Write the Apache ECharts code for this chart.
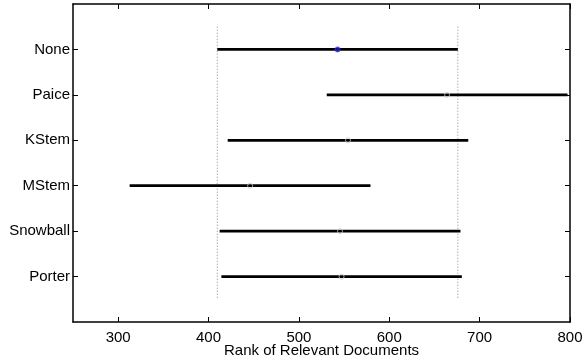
<!DOCTYPE html>
<html>
<head>
<meta charset="utf-8">
<script src="https://cdn.jsdelivr.net/npm/echarts@6/dist/echarts.min.js"></script>
<style>
  html, body { margin: 0; padding: 0; background: #fff; }
  #chart { width: 588px; height: 364px; }
</style>
</head>
<body>
<div id="chart"></div>
<script>
// groups top to bottom, with estimated mean rank and comparison interval
const groups = ["None", "Paice", "KStem", "MStem", "Snowball", "Porter"];
const means = [542.8, 664.0, 554.3, 446.0, 545.5, 547.2];
const lower = [409.7, 530.8, 421.2, 312.7, 412.3, 414.2];
const upper = [675.9, 797.3, 687.4, 579.2, 678.8, 680.3];
const xTicks = [300, 400, 500, 600, 700, 800];

const font = "Liberation Sans, Arial, Helvetica, sans-serif";
const rowPos = groups.map((g, i) => i + 1);

const chart = echarts.init(document.getElementById("chart"), null, { renderer: "canvas" });

const intervalSeries = groups.map((g, i) => ({
  name: g,
  type: "line",
  data: [[lower[i], i + 1], [upper[i], i + 1]],
  symbol: "none",
  silent: true,
  lineStyle: { color: "#000", width: 2.8 },
  z: 3,
}));

// dotted reference lines at the bounds of the first group
const refSeries = [lower[0], upper[0]].map((v) => ({
  type: "line",
  data: [[v, 0.5], [v, groups.length + 0.5]],
  symbol: "none",
  silent: true,
  lineStyle: { color: "#888", width: 1, type: [1, 2] },
  z: 2,
}));

const axisLine = { show: true, onZero: false, lineStyle: { color: "#000", width: 1.5 } };

const option = {
  animation: false,
  grid: { left: 73, right: 18, top: 4, bottom: 42, containLabel: false, outerBoundsMode: "none" },
  xAxis: [
    {
      type: "value",
      position: "bottom",
      min: 250,
      max: 800,
      name: "Rank of Relevant Documents",
      nameLocation: "middle",
      nameGap: 21,
      nameMoveOverlap: false,
      nameTextStyle: { color: "#000", fontFamily: font, fontSize: 15 },
      axisLine: axisLine,
      axisTick: { show: true, inside: true, length: 5, customValues: xTicks, lineStyle: { color: "#000" } },
      axisLabel: { customValues: xTicks, color: "#000", fontFamily: font, fontSize: 15, margin: 8 },
      splitLine: { show: false },
    },
    {
      type: "value",
      position: "top",
      min: 250,
      max: 800,
      axisLine: axisLine,
      axisTick: { show: true, inside: true, length: 5, customValues: xTicks, lineStyle: { color: "#000" } },
      axisLabel: { show: false },
      splitLine: { show: false },
    },
  ],
  yAxis: [
    {
      type: "value",
      position: "left",
      inverse: true,
      min: 0,
      max: 7,
      axisLine: axisLine,
      axisTick: { show: true, inside: true, length: 5, customValues: rowPos, lineStyle: { color: "#000" } },
      axisLabel: {
        customValues: rowPos,
        formatter: (v) => groups[v - 1] || "",
        color: "#000",
        fontFamily: font,
        fontSize: 15,
        margin: 3,
      },
      splitLine: { show: false },
    },
    {
      type: "value",
      position: "right",
      inverse: true,
      min: 0,
      max: 7,
      axisLine: axisLine,
      axisTick: { show: true, inside: true, length: 5, customValues: rowPos, lineStyle: { color: "#000" } },
      axisLabel: { show: false },
      splitLine: { show: false },
    },
  ],
  series: [
    ...refSeries,
    ...intervalSeries,
    {
      type: "scatter",
      data: means.map((m, i) => ({
        value: [m, i + 1],
        itemStyle: i === 0
          ? { color: "#2020a0", borderColor: "#3030ff", borderWidth: 1 }
          : { color: "rgba(0,0,0,0)", borderColor: "#c8c8c8", borderWidth: 1 },
      })),
      symbol: "circle",
      symbolSize: 5,
      silent: true,
      z: 4,
    },
  ],
};

chart.setOption(option);
</script>
</body>
</html>
